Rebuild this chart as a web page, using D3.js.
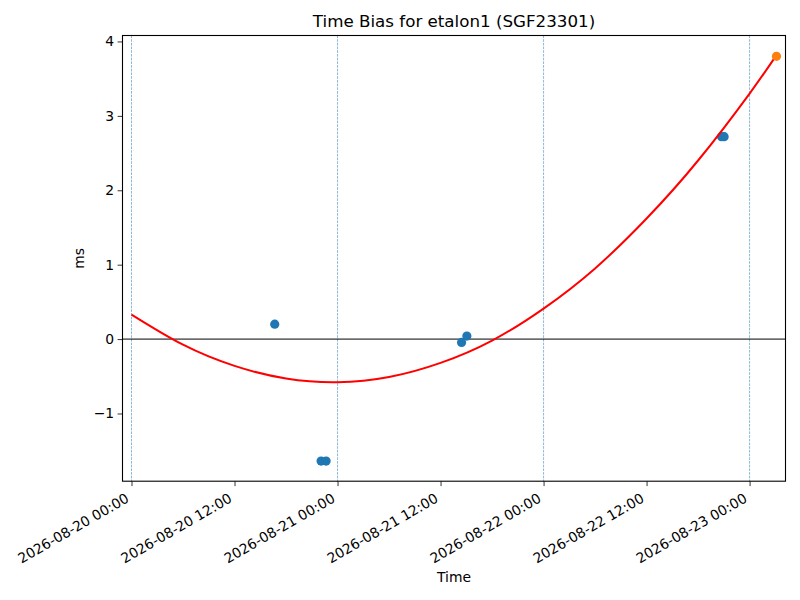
<!DOCTYPE html>
<html lang="en">
<head>
<meta charset="UTF-8">
<title>Time Bias</title>
<script src="https://d3js.org/d3.v7.min.js"></script>
<style>
  body { margin: 0; background: #fff; }
  svg { display: block; font-family: "DejaVu Sans", sans-serif; }
</style>
</head>
<body>
<script>
// ---- data ----
var obsTimes = ["2026-08-20T16:41", "2026-08-20T22:05", "2026-08-20T22:40",
                "2026-08-21T14:27", "2026-08-21T15:04",
                "2026-08-22T20:44", "2026-08-22T21:02"];
var obsBias = [0.20, -1.64, -1.64, -0.045, 0.04, 2.72, 2.72];

var predTimes = ["2026-08-23T03:08"];
var predBias = [3.80];

// fitted curve
var fitTimes = ["2026-08-20T00:00", "2026-08-20T06:00", "2026-08-20T12:00", "2026-08-20T18:00",
                "2026-08-21T00:00", "2026-08-21T06:00", "2026-08-21T12:00", "2026-08-21T18:00",
                "2026-08-22T00:00", "2026-08-22T06:00", "2026-08-22T12:00", "2026-08-22T18:00",
                "2026-08-23T00:00", "2026-08-23T03:09"];
var fitBias = [0.33, -0.075, -0.36, -0.53, -0.58, -0.51, -0.32, -0.02,
               0.41, 0.95, 1.62, 2.40, 3.30, 3.82];

var dayLines = ["2026-08-20T00:00", "2026-08-21T00:00", "2026-08-22T00:00", "2026-08-23T00:00"];

var xDomain = ["2026-08-19T22:57", "2026-08-23T04:11"];
var yDomain = [-1.91, 4.08];
var yTicks = [-1, 0, 1, 2, 3, 4];

var titleText = "Time Bias for etalon1 (SGF23301)";

// ---- layout ----
var W = 800, H = 600;
var margin = {top: 35.5, right: 14.5, bottom: 118.8, left: 122.5};
var width = W - margin.left - margin.right,
    height = H - margin.top - margin.bottom;
var FONT = "DejaVu Sans, sans-serif";

var parse = d3.utcParse("%Y-%m-%dT%H:%M");
var fmt = d3.utcFormat("%Y-%m-%d %H:%M");

var svg = d3.select("body").append("svg")
  .attr("width", W)
  .attr("height", H);

var g = svg.append("g")
  .attr("transform", "translate(" + margin.left + "," + margin.top + ")");

var x = d3.scaleUtc()
  .domain(xDomain.map(parse))
  .range([0, width]);
var y = d3.scaleLinear()
  .domain(yDomain)
  .range([height, 0]);

// day separators
g.selectAll(".day").data(dayLines).enter().append("line")
  .attr("class", "day")
  .attr("x1", function (d) { return x(parse(d)); })
  .attr("x2", function (d) { return x(parse(d)); })
  .attr("y1", 0).attr("y2", height)
  .attr("stroke", "#1f77b4")
  .attr("stroke-opacity", 0.75)
  .attr("stroke-width", 0.7)
  .attr("stroke-dasharray", "2.6,1.1");

// zero line
g.append("line")
  .attr("x1", 0).attr("x2", width)
  .attr("y1", y(0)).attr("y2", y(0))
  .attr("stroke", "#000")
  .attr("stroke-width", 1);

// observations
var obs = obsTimes.map(function (t, i) { return {t: parse(t), v: obsBias[i]}; });
g.selectAll(".obs").data(obs).enter().append("circle")
  .attr("class", "obs")
  .attr("cx", function (d) { return x(d.t); })
  .attr("cy", function (d) { return y(d.v); })
  .attr("r", 4.6)
  .attr("fill", "#1f77b4");

// fit
var fit = fitTimes.map(function (t, i) { return {t: parse(t), v: fitBias[i]}; });
g.append("path")
  .datum(fit)
  .attr("fill", "none")
  .attr("stroke", "#ff0000")
  .attr("stroke-width", 2)
  .attr("d", d3.line()
    .x(function (d) { return x(d.t); })
    .y(function (d) { return y(d.v); })
    .curve(d3.curveNatural));

// prediction
var pred = predTimes.map(function (t, i) { return {t: parse(t), v: predBias[i]}; });
g.selectAll(".pred").data(pred).enter().append("circle")
  .attr("class", "pred")
  .attr("cx", function (d) { return x(d.t); })
  .attr("cy", function (d) { return y(d.v); })
  .attr("r", 4.6)
  .attr("fill", "#ff7f0e");

// ---- axes ----
var xAxis = g.append("g")
  .attr("transform", "translate(0," + height + ")")
  .call(d3.axisBottom(x)
    .ticks(d3.utcHour.every(12))
    .tickFormat(fmt)
    .tickSize(4.9)
    .tickSizeOuter(0));
xAxis.attr("font-family", FONT).attr("font-size", "13.9px");
xAxis.select(".domain").remove();
xAxis.selectAll(".tick line").attr("stroke", "#000").attr("stroke-width", 0.8);
xAxis.selectAll(".tick text")
  .attr("fill", "#000")
  .attr("text-anchor", "end")
  .attr("x", -2)
  .attr("y", 20)
  .attr("dy", null)
  .attr("transform", "rotate(-30, -2, 20)");

var yAxis = g.append("g")
  .call(d3.axisLeft(y)
    .tickValues(yTicks)
    .tickFormat(function (d) { return d < 0 ? "\u2212" + Math.abs(d) : d; })
    .tickSize(4.9)
    .tickSizeOuter(0));
yAxis.attr("font-family", FONT).attr("font-size", "13.9px");
yAxis.select(".domain").remove();
yAxis.selectAll(".tick line").attr("stroke", "#000").attr("stroke-width", 0.8);
yAxis.selectAll(".tick text")
  .attr("fill", "#000")
  .attr("x", -8.4);

// frame
g.append("rect")
  .attr("width", width).attr("height", height)
  .attr("fill", "none")
  .attr("stroke", "#000")
  .attr("stroke-width", 1.1);

// ---- labels ----
svg.append("text")
  .attr("x", margin.left + width / 2)
  .attr("y", margin.top - 8.5)
  .attr("text-anchor", "middle")
  .attr("font-size", "16.7px")
  .text(titleText);

svg.append("text")
  .attr("x", margin.left + width / 2)
  .attr("y", 582)
  .attr("text-anchor", "middle")
  .attr("font-size", "13.9px")
  .text("Time");

svg.append("text")
  .attr("transform", "translate(84," + (margin.top + height / 2) + ") rotate(-90)")
  .attr("text-anchor", "middle")
  .attr("font-size", "13.9px")
  .text("ms");
</script>
</body>
</html>
